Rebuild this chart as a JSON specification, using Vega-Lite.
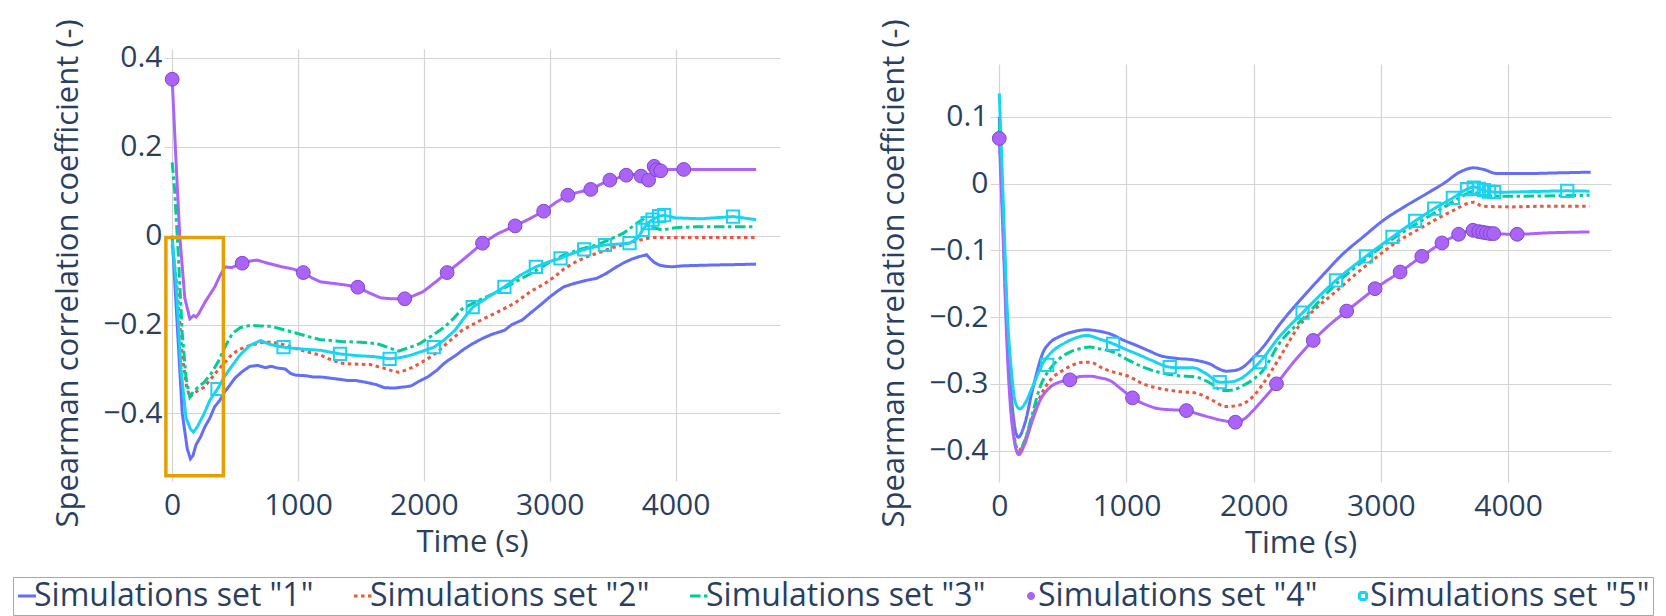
{
  "$schema": "https://vega.github.io/schema/vega-lite/v6.json",
  "background": "white",
  "padding": {"left": 12, "top": 18, "right": 4, "bottom": 0},
  "config": {
    "font": "Open Sans",
    "view": {"stroke": null},
    "axis": {"labelFont": "Open Sans", "titleFont": "Open Sans", "labelFontSize": 30, "titleFontSize": 31, "titleFontWeight": "normal", "labelColor": "#2a3f5f", "titleColor": "#2a3f5f", "gridColor": "#d4d4d4", "gridWidth": 1.2, "domain": false, "ticks": false, "titleLimit": 1000},
    "legend": {"orient": "none", "legendX": -151, "legendY": 528, "direction": "horizontal", "columns": 5, "columnPadding": 34, "labelFont": "Open Sans", "labelFontSize": 32, "labelColor": "#2a3f5f", "labelLimit": 500, "labelOffset": -9, "symbolOffset": -5, "padding": 3, "strokeColor": "#a8a8a8", "symbolSize": 324, "symbolStrokeWidth": 3, "symbolType": "stroke"}
  },
  "datasets": {
    "L": [
      {"s":"1","t":0,"v":0.0},{"s":"1","t":40,"v":-0.2},{"s":"1","t":80,"v":-0.4},{"s":"1","t":120,"v":-0.48},{"s":"1","t":145,"v":-0.502},{"s":"1","t":165,"v":-0.495},{"s":"1","t":190,"v":-0.47},{"s":"1","t":225,"v":-0.453},{"s":"1","t":260,"v":-0.43},{"s":"1","t":300,"v":-0.41},{"s":"1","t":337,"v":-0.385},{"s":"1","t":380,"v":-0.37},{"s":"1","t":420,"v":-0.35},{"s":"1","t":449,"v":-0.34},{"s":"1","t":500,"v":-0.32},{"s":"1","t":560,"v":-0.305},{"s":"1","t":618,"v":-0.294},{"s":"1","t":680,"v":-0.292},{"s":"1","t":740,"v":-0.297},{"s":"1","t":787,"v":-0.294},{"s":"1","t":840,"v":-0.298},{"s":"1","t":899,"v":-0.3},{"s":"1","t":940,"v":-0.31},{"s":"1","t":983,"v":-0.314},{"s":"1","t":1060,"v":-0.315},{"s":"1","t":1120,"v":-0.318},{"s":"1","t":1180,"v":-0.318},{"s":"1","t":1300,"v":-0.322},{"s":"1","t":1400,"v":-0.326},{"s":"1","t":1461,"v":-0.326},{"s":"1","t":1540,"v":-0.33},{"s":"1","t":1620,"v":-0.335},{"s":"1","t":1685,"v":-0.342},{"s":"1","t":1760,"v":-0.343},{"s":"1","t":1854,"v":-0.34},{"s":"1","t":1900,"v":-0.338},{"s":"1","t":1952,"v":-0.329},{"s":"1","t":2030,"v":-0.318},{"s":"1","t":2107,"v":-0.302},{"s":"1","t":2150,"v":-0.29},{"s":"1","t":2191,"v":-0.281},{"s":"1","t":2250,"v":-0.27},{"s":"1","t":2320,"v":-0.255},{"s":"1","t":2388,"v":-0.243},{"s":"1","t":2460,"v":-0.232},{"s":"1","t":2540,"v":-0.222},{"s":"1","t":2640,"v":-0.213},{"s":"1","t":2700,"v":-0.2},{"s":"1","t":2780,"v":-0.19},{"s":"1","t":2865,"v":-0.17},{"s":"1","t":2930,"v":-0.155},{"s":"1","t":3000,"v":-0.138},{"s":"1","t":3056,"v":-0.126},{"s":"1","t":3112,"v":-0.115},{"s":"1","t":3200,"v":-0.107},{"s":"1","t":3300,"v":-0.1},{"s":"1","t":3373,"v":-0.096},{"s":"1","t":3450,"v":-0.085},{"s":"1","t":3520,"v":-0.072},{"s":"1","t":3582,"v":-0.062},{"s":"1","t":3650,"v":-0.053},{"s":"1","t":3713,"v":-0.047},{"s":"1","t":3770,"v":-0.043},{"s":"1","t":3800,"v":-0.052},{"s":"1","t":3830,"v":-0.06},{"s":"1","t":3869,"v":-0.066},{"s":"1","t":3920,"v":-0.069},{"s":"1","t":3974,"v":-0.07},{"s":"1","t":4050,"v":-0.068},{"s":"1","t":4157,"v":-0.067},{"s":"1","t":4300,"v":-0.066},{"s":"1","t":4500,"v":-0.065},{"s":"1","t":4640,"v":-0.064},
      {"s":"2","t":0,"v":-0.02},{"s":"2","t":40,"v":-0.12},{"s":"2","t":80,"v":-0.27},{"s":"2","t":115,"v":-0.34},{"s":"2","t":140,"v":-0.363},{"s":"2","t":170,"v":-0.355},{"s":"2","t":210,"v":-0.348},{"s":"2","t":253,"v":-0.341},{"s":"2","t":300,"v":-0.325},{"s":"2","t":365,"v":-0.302},{"s":"2","t":420,"v":-0.285},{"s":"2","t":478,"v":-0.266},{"s":"2","t":540,"v":-0.255},{"s":"2","t":618,"v":-0.247},{"s":"2","t":700,"v":-0.241},{"s":"2","t":787,"v":-0.239},{"s":"2","t":880,"v":-0.245},{"s":"2","t":983,"v":-0.254},{"s":"2","t":1080,"v":-0.262},{"s":"2","t":1180,"v":-0.269},{"s":"2","t":1260,"v":-0.279},{"s":"2","t":1348,"v":-0.287},{"s":"2","t":1450,"v":-0.289},{"s":"2","t":1573,"v":-0.29},{"s":"2","t":1680,"v":-0.298},{"s":"2","t":1760,"v":-0.305},{"s":"2","t":1798,"v":-0.307},{"s":"2","t":1850,"v":-0.303},{"s":"2","t":1920,"v":-0.295},{"s":"2","t":1966,"v":-0.288},{"s":"2","t":2040,"v":-0.275},{"s":"2","t":2107,"v":-0.262},{"s":"2","t":2200,"v":-0.238},{"s":"2","t":2303,"v":-0.213},{"s":"2","t":2440,"v":-0.192},{"s":"2","t":2584,"v":-0.172},{"s":"2","t":2720,"v":-0.152},{"s":"2","t":2851,"v":-0.125},{"s":"2","t":2960,"v":-0.108},{"s":"2","t":3050,"v":-0.09},{"s":"2","t":3112,"v":-0.075},{"s":"2","t":3200,"v":-0.06},{"s":"2","t":3290,"v":-0.048},{"s":"2","t":3373,"v":-0.04},{"s":"2","t":3500,"v":-0.027},{"s":"2","t":3634,"v":-0.016},{"s":"2","t":3730,"v":-0.009},{"s":"2","t":3817,"v":-0.004},{"s":"2","t":3900,"v":-0.004},{"s":"2","t":4200,"v":-0.004},{"s":"2","t":4640,"v":-0.004},
      {"s":"3","t":0,"v":0.165},{"s":"3","t":20,"v":0.1},{"s":"3","t":50,"v":-0.05},{"s":"3","t":80,"v":-0.22},{"s":"3","t":110,"v":-0.32},{"s":"3","t":140,"v":-0.363},{"s":"3","t":170,"v":-0.35},{"s":"3","t":210,"v":-0.34},{"s":"3","t":253,"v":-0.33},{"s":"3","t":310,"v":-0.31},{"s":"3","t":365,"v":-0.284},{"s":"3","t":420,"v":-0.25},{"s":"3","t":478,"v":-0.22},{"s":"3","t":540,"v":-0.207},{"s":"3","t":618,"v":-0.202},{"s":"3","t":700,"v":-0.203},{"s":"3","t":787,"v":-0.204},{"s":"3","t":880,"v":-0.211},{"s":"3","t":983,"v":-0.219},{"s":"3","t":1080,"v":-0.227},{"s":"3","t":1180,"v":-0.234},{"s":"3","t":1348,"v":-0.238},{"s":"3","t":1500,"v":-0.24},{"s":"3","t":1629,"v":-0.243},{"s":"3","t":1720,"v":-0.252},{"s":"3","t":1798,"v":-0.26},{"s":"3","t":1880,"v":-0.252},{"s":"3","t":1966,"v":-0.243},{"s":"3","t":2060,"v":-0.226},{"s":"3","t":2163,"v":-0.206},{"s":"3","t":2240,"v":-0.185},{"s":"3","t":2303,"v":-0.165},{"s":"3","t":2440,"v":-0.145},{"s":"3","t":2584,"v":-0.127},{"s":"3","t":2720,"v":-0.105},{"s":"3","t":2851,"v":-0.085},{"s":"3","t":2980,"v":-0.063},{"s":"3","t":3112,"v":-0.043},{"s":"3","t":3250,"v":-0.03},{"s":"3","t":3373,"v":-0.021},{"s":"3","t":3480,"v":-0.008},{"s":"3","t":3582,"v":0.005},{"s":"3","t":3680,"v":0.025},{"s":"3","t":3739,"v":0.037},{"s":"3","t":3790,"v":0.02},{"s":"3","t":3896,"v":0.013},{"s":"3","t":4000,"v":0.018},{"s":"3","t":4157,"v":0.02},{"s":"3","t":4640,"v":0.02},
      {"s":"4","t":0,"v":0.352},{"s":"4","t":30,"v":0.17},{"s":"4","t":60,"v":0.0},{"s":"4","t":100,"v":-0.14},{"s":"4","t":140,"v":-0.187},{"s":"4","t":170,"v":-0.18},{"s":"4","t":190,"v":-0.183},{"s":"4","t":210,"v":-0.176},{"s":"4","t":260,"v":-0.15},{"s":"4","t":337,"v":-0.116},{"s":"4","t":380,"v":-0.09},{"s":"4","t":421,"v":-0.07},{"s":"4","t":470,"v":-0.072},{"s":"4","t":556,"v":-0.062},{"s":"4","t":620,"v":-0.057},{"s":"4","t":674,"v":-0.055},{"s":"4","t":760,"v":-0.062},{"s":"4","t":871,"v":-0.07},{"s":"4","t":960,"v":-0.075},{"s":"4","t":1042,"v":-0.083},{"s":"4","t":1110,"v":-0.095},{"s":"4","t":1180,"v":-0.104},{"s":"4","t":1300,"v":-0.108},{"s":"4","t":1400,"v":-0.112},{"s":"4","t":1475,"v":-0.116},{"s":"4","t":1560,"v":-0.128},{"s":"4","t":1657,"v":-0.14},{"s":"4","t":1750,"v":-0.142},{"s":"4","t":1848,"v":-0.142},{"s":"4","t":1920,"v":-0.135},{"s":"4","t":1994,"v":-0.126},{"s":"4","t":2090,"v":-0.105},{"s":"4","t":2185,"v":-0.083},{"s":"4","t":2320,"v":-0.052},{"s":"4","t":2466,"v":-0.017},{"s":"4","t":2590,"v":0.005},{"s":"4","t":2725,"v":0.022},{"s":"4","t":2840,"v":0.038},{"s":"4","t":2952,"v":0.055},{"s":"4","t":3050,"v":0.075},{"s":"4","t":3144,"v":0.091},{"s":"4","t":3230,"v":0.098},{"s":"4","t":3326,"v":0.104},{"s":"4","t":3400,"v":0.115},{"s":"4","t":3478,"v":0.125},{"s":"4","t":3540,"v":0.13},{"s":"4","t":3608,"v":0.136},{"s":"4","t":3670,"v":0.138},{"s":"4","t":3726,"v":0.134},{"s":"4","t":3786,"v":0.125},{"s":"4","t":3810,"v":0.14},{"s":"4","t":3830,"v":0.156},{"s":"4","t":3849,"v":0.148},{"s":"4","t":3882,"v":0.146},{"s":"4","t":3950,"v":0.149},{"s":"4","t":4065,"v":0.149},{"s":"4","t":4300,"v":0.149},{"s":"4","t":4640,"v":0.149},
      {"s":"5","t":0,"v":-0.01},{"s":"5","t":30,"v":-0.1},{"s":"5","t":70,"v":-0.3},{"s":"5","t":110,"v":-0.41},{"s":"5","t":145,"v":-0.435},{"s":"5","t":169,"v":-0.442},{"s":"5","t":200,"v":-0.43},{"s":"5","t":253,"v":-0.401},{"s":"5","t":300,"v":-0.37},{"s":"5","t":360,"v":-0.345},{"s":"5","t":420,"v":-0.315},{"s":"5","t":478,"v":-0.292},{"s":"5","t":540,"v":-0.268},{"s":"5","t":618,"v":-0.247},{"s":"5","t":702,"v":-0.236},{"s":"5","t":780,"v":-0.245},{"s":"5","t":885,"v":-0.251},{"s":"5","t":980,"v":-0.254},{"s":"5","t":1080,"v":-0.256},{"s":"5","t":1180,"v":-0.258},{"s":"5","t":1334,"v":-0.266},{"s":"5","t":1470,"v":-0.27},{"s":"5","t":1601,"v":-0.272},{"s":"5","t":1728,"v":-0.277},{"s":"5","t":1800,"v":-0.275},{"s":"5","t":1882,"v":-0.27},{"s":"5","t":1990,"v":-0.26},{"s":"5","t":2079,"v":-0.251},{"s":"5","t":2160,"v":-0.235},{"s":"5","t":2247,"v":-0.213},{"s":"5","t":2320,"v":-0.185},{"s":"5","t":2388,"v":-0.161},{"s":"5","t":2500,"v":-0.14},{"s":"5","t":2640,"v":-0.115},{"s":"5","t":2760,"v":-0.09},{"s":"5","t":2890,"v":-0.07},{"s":"5","t":3000,"v":-0.058},{"s":"5","t":3086,"v":-0.051},{"s":"5","t":3180,"v":-0.04},{"s":"5","t":3274,"v":-0.031},{"s":"5","t":3360,"v":-0.025},{"s":"5","t":3439,"v":-0.021},{"s":"5","t":3540,"v":-0.019},{"s":"5","t":3634,"v":-0.017},{"s":"5","t":3700,"v":-0.005},{"s":"5","t":3739,"v":0.013},{"s":"5","t":3778,"v":0.028},{"s":"5","t":3817,"v":0.036},{"s":"5","t":3869,"v":0.044},{"s":"5","t":3909,"v":0.046},{"s":"5","t":4000,"v":0.04},{"s":"5","t":4200,"v":0.038},{"s":"5","t":4457,"v":0.043},{"s":"5","t":4640,"v":0.036}
    ],
    "LM": [
      {"s":"4","t":0,"v":0.352},{"s":"4","t":556,"v":-0.062},{"s":"4","t":1042,"v":-0.083},{"s":"4","t":1475,"v":-0.116},{"s":"4","t":1848,"v":-0.142},{"s":"4","t":2185,"v":-0.083},{"s":"4","t":2466,"v":-0.017},{"s":"4","t":2725,"v":0.022},{"s":"4","t":2952,"v":0.055},{"s":"4","t":3144,"v":0.091},{"s":"4","t":3326,"v":0.104},{"s":"4","t":3478,"v":0.125},{"s":"4","t":3608,"v":0.136},{"s":"4","t":3726,"v":0.134},{"s":"4","t":3786,"v":0.125},{"s":"4","t":3830,"v":0.156},{"s":"4","t":3849,"v":0.148},{"s":"4","t":3882,"v":0.146},{"s":"4","t":4065,"v":0.149},
      {"s":"5","t":360,"v":-0.345},{"s":"5","t":885,"v":-0.251},{"s":"5","t":1334,"v":-0.266},{"s":"5","t":1728,"v":-0.277},{"s":"5","t":2079,"v":-0.251},{"s":"5","t":2388,"v":-0.161},{"s":"5","t":2640,"v":-0.115},{"s":"5","t":2890,"v":-0.07},{"s":"5","t":3086,"v":-0.051},{"s":"5","t":3274,"v":-0.031},{"s":"5","t":3439,"v":-0.021},{"s":"5","t":3634,"v":-0.017},{"s":"5","t":3739,"v":0.013},{"s":"5","t":3778,"v":0.028},{"s":"5","t":3817,"v":0.036},{"s":"5","t":3869,"v":0.044},{"s":"5","t":3909,"v":0.046},{"s":"5","t":4457,"v":0.043}
    ],
    "B": [{"t":-50,"t2":407,"v":-0.004,"v2":-0.54}],
    "R": [
      {"s":"1","t":0,"v":0.1},{"s":"1","t":30,"v":-0.05},{"s":"1","t":60,"v":-0.2},{"s":"1","t":100,"v":-0.33},{"s":"1","t":149,"v":-0.38},{"s":"1","t":200,"v":-0.36},{"s":"1","t":260,"v":-0.31},{"s":"1","t":346,"v":-0.252},{"s":"1","t":400,"v":-0.238},{"s":"1","t":476,"v":-0.229},{"s":"1","t":580,"v":-0.222},{"s":"1","t":686,"v":-0.219},{"s":"1","t":780,"v":-0.221},{"s":"1","t":869,"v":-0.225},{"s":"1","t":970,"v":-0.234},{"s":"1","t":1079,"v":-0.2425},{"s":"1","t":1170,"v":-0.25},{"s":"1","t":1262,"v":-0.2575},{"s":"1","t":1400,"v":-0.262},{"s":"1","t":1524,"v":-0.264},{"s":"1","t":1600,"v":-0.267},{"s":"1","t":1654,"v":-0.27},{"s":"1","t":1720,"v":-0.277},{"s":"1","t":1785,"v":-0.281},{"s":"1","t":1850,"v":-0.28},{"s":"1","t":1916,"v":-0.275},{"s":"1","t":1990,"v":-0.262},{"s":"1","t":2073,"v":-0.245},{"s":"1","t":2200,"v":-0.212},{"s":"1","t":2363,"v":-0.175},{"s":"1","t":2530,"v":-0.14},{"s":"1","t":2704,"v":-0.105},{"s":"1","t":2860,"v":-0.08},{"s":"1","t":3020,"v":-0.055},{"s":"1","t":3200,"v":-0.033},{"s":"1","t":3361,"v":-0.015},{"s":"1","t":3500,"v":0.001},{"s":"1","t":3624,"v":0.0175},{"s":"1","t":3729,"v":0.0235},{"s":"1","t":3808,"v":0.021},{"s":"1","t":3913,"v":0.015},{"s":"1","t":4150,"v":0.015},{"s":"1","t":4400,"v":0.016},{"s":"1","t":4649,"v":0.017},
      {"s":"2","t":0,"v":0.08},{"s":"2","t":30,"v":-0.06},{"s":"2","t":60,"v":-0.22},{"s":"2","t":100,"v":-0.35},{"s":"2","t":150,"v":-0.4},{"s":"2","t":200,"v":-0.385},{"s":"2","t":260,"v":-0.35},{"s":"2","t":320,"v":-0.32},{"s":"2","t":398,"v":-0.295},{"s":"2","t":480,"v":-0.282},{"s":"2","t":555,"v":-0.274},{"s":"2","t":640,"v":-0.268},{"s":"2","t":712,"v":-0.2675},{"s":"2","t":821,"v":-0.2775},{"s":"2","t":1030,"v":-0.29},{"s":"2","t":1131,"v":-0.3},{"s":"2","t":1262,"v":-0.307},{"s":"2","t":1393,"v":-0.311},{"s":"2","t":1550,"v":-0.314},{"s":"2","t":1650,"v":-0.322},{"s":"2","t":1785,"v":-0.334},{"s":"2","t":1850,"v":-0.333},{"s":"2","t":1916,"v":-0.33},{"s":"2","t":2000,"v":-0.318},{"s":"2","t":2073,"v":-0.3},{"s":"2","t":2200,"v":-0.262},{"s":"2","t":2350,"v":-0.215},{"s":"2","t":2500,"v":-0.185},{"s":"2","t":2626,"v":-0.165},{"s":"2","t":2800,"v":-0.136},{"s":"2","t":2967,"v":-0.11},{"s":"2","t":3120,"v":-0.088},{"s":"2","t":3283,"v":-0.07},{"s":"2","t":3450,"v":-0.052},{"s":"2","t":3598,"v":-0.0375},{"s":"2","t":3680,"v":-0.03},{"s":"2","t":3729,"v":-0.028},{"s":"2","t":3800,"v":-0.034},{"s":"2","t":4018,"v":-0.035},{"s":"2","t":4300,"v":-0.034},{"s":"2","t":4640,"v":-0.034},
      {"s":"3","t":0,"v":0.09},{"s":"3","t":30,"v":-0.06},{"s":"3","t":60,"v":-0.22},{"s":"3","t":100,"v":-0.35},{"s":"3","t":150,"v":-0.403},{"s":"3","t":200,"v":-0.385},{"s":"3","t":260,"v":-0.345},{"s":"3","t":320,"v":-0.305},{"s":"3","t":398,"v":-0.278},{"s":"3","t":480,"v":-0.261},{"s":"3","t":555,"v":-0.2525},{"s":"3","t":640,"v":-0.247},{"s":"3","t":712,"v":-0.245},{"s":"3","t":800,"v":-0.248},{"s":"3","t":895,"v":-0.2525},{"s":"3","t":1010,"v":-0.264},{"s":"3","t":1131,"v":-0.275},{"s":"3","t":1262,"v":-0.283},{"s":"3","t":1393,"v":-0.2875},{"s":"3","t":1550,"v":-0.29},{"s":"3","t":1650,"v":-0.298},{"s":"3","t":1759,"v":-0.31},{"s":"3","t":1840,"v":-0.309},{"s":"3","t":1916,"v":-0.3025},{"s":"3","t":2000,"v":-0.293},{"s":"3","t":2073,"v":-0.28},{"s":"3","t":2200,"v":-0.24},{"s":"3","t":2400,"v":-0.2},{"s":"3","t":2650,"v":-0.15},{"s":"3","t":2900,"v":-0.11},{"s":"3","t":3100,"v":-0.082},{"s":"3","t":3300,"v":-0.058},{"s":"3","t":3500,"v":-0.035},{"s":"3","t":3650,"v":-0.018},{"s":"3","t":3720,"v":-0.012},{"s":"3","t":3800,"v":-0.018},{"s":"3","t":4000,"v":-0.019},{"s":"3","t":4640,"v":-0.0175},
      {"s":"4","t":0,"v":0.0675},{"s":"4","t":30,"v":-0.08},{"s":"4","t":60,"v":-0.24},{"s":"4","t":100,"v":-0.36},{"s":"4","t":154,"v":-0.406},{"s":"4","t":200,"v":-0.39},{"s":"4","t":260,"v":-0.355},{"s":"4","t":320,"v":-0.325},{"s":"4","t":400,"v":-0.305},{"s":"4","t":480,"v":-0.297},{"s":"4","t":555,"v":-0.294},{"s":"4","t":640,"v":-0.289},{"s":"4","t":712,"v":-0.2885},{"s":"4","t":790,"v":-0.291},{"s":"4","t":869,"v":-0.295},{"s":"4","t":960,"v":-0.308},{"s":"4","t":1047,"v":-0.321},{"s":"4","t":1150,"v":-0.331},{"s":"4","t":1262,"v":-0.3375},{"s":"4","t":1370,"v":-0.339},{"s":"4","t":1471,"v":-0.34},{"s":"4","t":1560,"v":-0.345},{"s":"4","t":1654,"v":-0.35},{"s":"4","t":1760,"v":-0.355},{"s":"4","t":1856,"v":-0.3575},{"s":"4","t":1930,"v":-0.352},{"s":"4","t":1995,"v":-0.34},{"s":"4","t":2080,"v":-0.322},{"s":"4","t":2179,"v":-0.3},{"s":"4","t":2320,"v":-0.266},{"s":"4","t":2468,"v":-0.235},{"s":"4","t":2600,"v":-0.211},{"s":"4","t":2731,"v":-0.191},{"s":"4","t":2850,"v":-0.173},{"s":"4","t":2954,"v":-0.1575},{"s":"4","t":3151,"v":-0.1325},{"s":"4","t":3322,"v":-0.109},{"s":"4","t":3480,"v":-0.089},{"s":"4","t":3611,"v":-0.076},{"s":"4","t":3724,"v":-0.07},{"s":"4","t":3790,"v":-0.073},{"s":"4","t":3887,"v":-0.075},{"s":"4","t":4071,"v":-0.076},{"s":"4","t":4300,"v":-0.074},{"s":"4","t":4640,"v":-0.0725},
      {"s":"5","t":0,"v":0.135},{"s":"5","t":30,"v":-0.02},{"s":"5","t":60,"v":-0.18},{"s":"5","t":100,"v":-0.29},{"s":"5","t":130,"v":-0.33},{"s":"5","t":162,"v":-0.3375},{"s":"5","t":200,"v":-0.33},{"s":"5","t":260,"v":-0.305},{"s":"5","t":346,"v":-0.268},{"s":"5","t":420,"v":-0.251},{"s":"5","t":503,"v":-0.24},{"s":"5","t":590,"v":-0.232},{"s":"5","t":686,"v":-0.2275},{"s":"5","t":790,"v":-0.233},{"s":"5","t":895,"v":-0.24},{"s":"5","t":990,"v":-0.248},{"s":"5","t":1079,"v":-0.255},{"s":"5","t":1200,"v":-0.265},{"s":"5","t":1340,"v":-0.275},{"s":"5","t":1440,"v":-0.276},{"s":"5","t":1524,"v":-0.276},{"s":"5","t":1620,"v":-0.284},{"s":"5","t":1733,"v":-0.2975},{"s":"5","t":1820,"v":-0.297},{"s":"5","t":1916,"v":-0.29},{"s":"5","t":1980,"v":-0.28},{"s":"5","t":2047,"v":-0.2675},{"s":"5","t":2200,"v":-0.23},{"s":"5","t":2384,"v":-0.1935},{"s":"5","t":2647,"v":-0.145},{"s":"5","t":2883,"v":-0.109},{"s":"5","t":3091,"v":-0.08},{"s":"5","t":3269,"v":-0.056},{"s":"5","t":3419,"v":-0.0375},{"s":"5","t":3566,"v":-0.0215},{"s":"5","t":3677,"v":-0.0085},{"s":"5","t":3730,"v":-0.005},{"s":"5","t":3780,"v":-0.008},{"s":"5","t":3850,"v":-0.012},{"s":"5","t":3940,"v":-0.013},{"s":"5","t":4200,"v":-0.012},{"s":"5","t":4465,"v":-0.011},{"s":"5","t":4640,"v":-0.0115}
    ],
    "RM": [
      {"s":"4","t":0,"v":0.0675},{"s":"4","t":555,"v":-0.294},{"s":"4","t":1047,"v":-0.321},{"s":"4","t":1471,"v":-0.34},{"s":"4","t":1856,"v":-0.3575},{"s":"4","t":2179,"v":-0.3},{"s":"4","t":2468,"v":-0.235},{"s":"4","t":2731,"v":-0.191},{"s":"4","t":2954,"v":-0.1575},{"s":"4","t":3151,"v":-0.1325},{"s":"4","t":3322,"v":-0.109},{"s":"4","t":3480,"v":-0.089},{"s":"4","t":3611,"v":-0.076},{"s":"4","t":3724,"v":-0.07},{"s":"4","t":3770,"v":-0.072},{"s":"4","t":3800,"v":-0.073},{"s":"4","t":3830,"v":-0.074},{"s":"4","t":3860,"v":-0.075},{"s":"4","t":3887,"v":-0.075},{"s":"4","t":4071,"v":-0.076},
      {"s":"5","t":377,"v":-0.2715},{"s":"5","t":895,"v":-0.24},{"s":"5","t":1340,"v":-0.275},{"s":"5","t":1733,"v":-0.2975},{"s":"5","t":2047,"v":-0.2675},{"s":"5","t":2384,"v":-0.1935},{"s":"5","t":2647,"v":-0.145},{"s":"5","t":2883,"v":-0.109},{"s":"5","t":3091,"v":-0.08},{"s":"5","t":3269,"v":-0.056},{"s":"5","t":3419,"v":-0.0375},{"s":"5","t":3566,"v":-0.0215},{"s":"5","t":3677,"v":-0.0085},{"s":"5","t":3730,"v":-0.006},{"s":"5","t":3770,"v":-0.008},{"s":"5","t":3810,"v":-0.01},{"s":"5","t":3850,"v":-0.012},{"s":"5","t":3890,"v":-0.013},{"s":"5","t":4465,"v":-0.011}
    ]
  },
  "columns": 2,
  "align": "none",
  "spacing": 98,
  "concat": [
    {
      "width": 616,
      "height": 432,
      "encoding": {
        "x": {"field": "t", "type": "quantitative", "scale": {"domain": [-65, 4830], "nice": false, "zero": false}, "axis": {"values": [0, 1000, 2000, 3000, 4000], "format": "d", "title": "Time (s)", "labelPadding": 9, "titlePadding": 7}},
        "y": {"field": "v", "type": "quantitative", "scale": {"domain": [-0.552, 0.42], "nice": false, "zero": false}, "axis": {"values": [-0.4, -0.2, 0, 0.2, 0.4], "format": "~f", "title": "Spearman correlation coefficient (-)", "labelPadding": 2, "titlePadding": 18, "titleY": 224}}
      },
      "layer": [
        {
          "data": {"name": "L"},
          "mark": {"type": "line", "strokeWidth": 3},
          "encoding": {
            "color": {"field": "s", "type": "nominal", "scale": {"domain": ["1", "2", "3", "4", "5"], "range": ["#636efa", "#ef553b", "#00cc96", "#ab63fa", "#19d3f3"]}, "legend": {"title": null, "labelExpr": "'Simulations set \"' + datum.label + '\"'", "encoding": {"symbols": {"shape": {"value": {"expr": "datum.value === '4' ? 'circle' : datum.value === '5' ? 'square' : 'stroke'"}}, "size": {"value": {"expr": "datum.value === '4' ? 25 : datum.value === '5' ? 49 : 324"}}, "fill": {"value": {"expr": "datum.value === '4' ? '#ab63fa' : 'transparent'"}}}}}},
            "strokeDash": {"field": "s", "type": "nominal", "scale": {"domain": ["1", "2", "3", "4", "5"], "range": [[1, 0], [3.5, 3.5], [10.5, 3.5, 3.5, 3.5], [1, 0], [1, 0]]}, "legend": {"title": null, "labelExpr": "'Simulations set \"' + datum.label + '\"'", "encoding": {"symbols": {"shape": {"value": {"expr": "datum.value === '4' ? 'circle' : datum.value === '5' ? 'square' : 'stroke'"}}, "size": {"value": {"expr": "datum.value === '4' ? 25 : datum.value === '5' ? 49 : 324"}}, "fill": {"value": {"expr": "datum.value === '4' ? '#ab63fa' : 'transparent'"}}}}}}
          }
        },
        {
          "data": {"name": "LM"},
          "transform": [{"filter": "datum.s == '4'"}],
          "mark": {"type": "point", "shape": "circle", "filled": true, "size": 190, "fill": "#ab63fa", "stroke": "#7d48c8", "strokeWidth": 1, "opacity": 1}
        },
        {
          "data": {"name": "LM"},
          "transform": [{"filter": "datum.s == '5'"}],
          "mark": {"type": "point", "shape": "square", "filled": false, "size": 150, "stroke": "#19d3f3", "strokeWidth": 2, "opacity": 1}
        },
        {
          "data": {"name": "B"},
          "mark": {"type": "rect", "fill": "transparent", "stroke": "#e69f00", "strokeWidth": 3.5},
          "encoding": {"x2": {"field": "t2"}, "y2": {"field": "v2"}}
        }
      ]
    },
    {
      "spacing": 0,
      "bounds": "flush",
      "vconcat": [
        {"width": 621, "height": 15, "data": {"values": []}, "mark": "point"},
        {
          "width": 621,
          "height": 418,
          "encoding": {
            "x": {"field": "t", "type": "quantitative", "scale": {"domain": [-73, 4809], "nice": false, "zero": false}, "axis": {"values": [0, 1000, 2000, 3000, 4000], "format": "d", "title": "Time (s)", "labelPadding": 9, "titlePadding": 7}},
            "y": {"field": "v", "type": "quantitative", "scale": {"domain": [-0.447, 0.179], "nice": false, "zero": false}, "axis": {"values": [-0.4, -0.3, -0.2, -0.1, 0, 0.1], "format": "~f", "title": "Spearman correlation coefficient (-)", "labelPadding": 2, "titlePadding": 18}}
          },
          "layer": [
            {
              "data": {"name": "R"},
              "mark": {"type": "line", "strokeWidth": 3, "interpolate": "monotone"},
              "encoding": {
                "color": {"field": "s", "type": "nominal", "scale": {"domain": ["1", "2", "3", "4", "5"], "range": ["#636efa", "#ef553b", "#00cc96", "#ab63fa", "#19d3f3"]}, "legend": {"title": null, "labelExpr": "'Simulations set \"' + datum.label + '\"'", "encoding": {"symbols": {"shape": {"value": {"expr": "datum.value === '4' ? 'circle' : datum.value === '5' ? 'square' : 'stroke'"}}, "size": {"value": {"expr": "datum.value === '4' ? 25 : datum.value === '5' ? 49 : 324"}}, "fill": {"value": {"expr": "datum.value === '4' ? '#ab63fa' : 'transparent'"}}}}}},
                "strokeDash": {"field": "s", "type": "nominal", "scale": {"domain": ["1", "2", "3", "4", "5"], "range": [[1, 0], [3.5, 3.5], [10.5, 3.5, 3.5, 3.5], [1, 0], [1, 0]]}, "legend": {"title": null, "labelExpr": "'Simulations set \"' + datum.label + '\"'", "encoding": {"symbols": {"shape": {"value": {"expr": "datum.value === '4' ? 'circle' : datum.value === '5' ? 'square' : 'stroke'"}}, "size": {"value": {"expr": "datum.value === '4' ? 25 : datum.value === '5' ? 49 : 324"}}, "fill": {"value": {"expr": "datum.value === '4' ? '#ab63fa' : 'transparent'"}}}}}}
              }
            },
            {
              "data": {"name": "RM"},
              "transform": [{"filter": "datum.s == '4'"}],
              "mark": {"type": "point", "shape": "circle", "filled": true, "size": 190, "fill": "#ab63fa", "stroke": "#7d48c8", "strokeWidth": 1, "opacity": 1}
            },
            {
              "data": {"name": "RM"},
              "transform": [{"filter": "datum.s == '5'"}],
              "mark": {"type": "point", "shape": "square", "filled": false, "size": 150, "stroke": "#19d3f3", "strokeWidth": 2, "opacity": 1}
            }
          ]
        }
      ]
    }
  ]
}
